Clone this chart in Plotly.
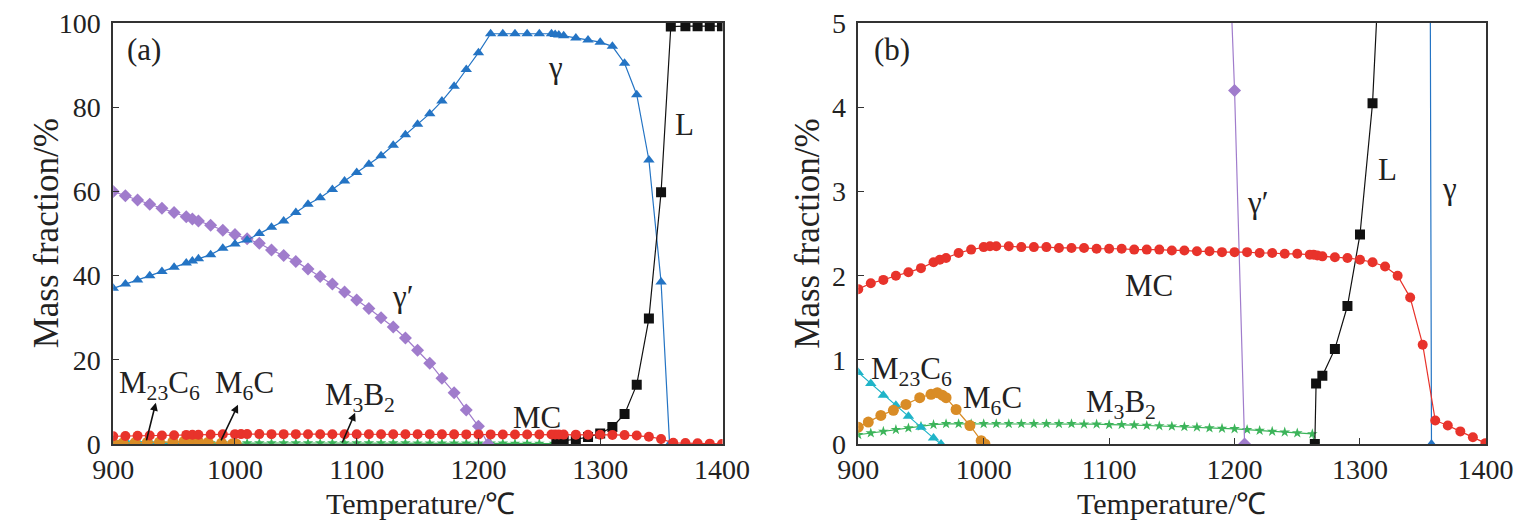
import plotly.graph_objs as go
from plotly.subplots import make_subplots

# gamma (matrix), blue triangles
gamma_t = [900, 910, 920, 930, 940, 950, 960, 965, 970, 980, 990, 1000, 1010, 1020, 1030,
           1040, 1050, 1060, 1070, 1080, 1090, 1100, 1110, 1120, 1130, 1140, 1150, 1160,
           1170, 1180, 1190, 1200, 1210, 1220, 1230, 1240, 1250, 1260, 1263, 1266, 1270,
           1280, 1290, 1300, 1310, 1320, 1330, 1340, 1350, 1357]
gamma_v = [37, 38, 39, 40, 41, 42, 43, 43.5, 44, 45, 46.5, 47.5, 48.5, 50, 51.5,
           53, 55, 57, 58.5, 60.5, 62.5, 64.5, 66.5, 68.5, 71, 73.5, 76, 78.5,
           81.5, 85, 89, 93, 97.5, 97.5, 97.5, 97.5, 97.5, 97.5, 97.3, 97.2, 97,
           96.5, 96, 95.5, 94.5, 90.5, 83, 67.5, 38.5, 0]

# gamma prime, purple diamonds
gp_t = [900, 910, 920, 930, 940, 950, 960, 965, 970, 980, 990, 1000, 1010, 1020, 1030,
        1040, 1050, 1060, 1070, 1080, 1090, 1100, 1110, 1120, 1130, 1140, 1150, 1160,
        1170, 1180, 1190, 1200, 1208]
gp_v = [60, 59, 58, 57, 56, 55, 54, 53.5, 53, 52, 50.8, 49.8, 48.8, 47.7, 46.1,
        44.8, 43.4, 41.6, 39.8, 38, 36.1, 34.2, 32.2, 30, 27.8, 25.2, 22.3, 19.2,
        15.6, 12.2, 8.1, 4.2, 0]

# liquid, black squares
liq_t = [1264, 1265, 1270, 1280, 1290, 1300, 1310, 1320, 1330, 1340, 1350, 1358,
         1370, 1380, 1390, 1400]
liq_v = [0, 0.72, 0.81, 1.13, 1.64, 2.49, 4.05, 7.1, 14.1, 29.8, 59.8, 99.2,
         99.3, 99.3, 99.3, 99.3]

# MC carbide, red circles
mc_t = [900, 910, 920, 930, 940, 950, 960, 965, 970, 980, 990, 1000, 1005, 1010, 1020,
        1030, 1040, 1050, 1060, 1070, 1080, 1090, 1100, 1110, 1120, 1130, 1140, 1150,
        1160, 1170, 1180, 1190, 1200, 1210, 1220, 1230, 1240, 1250, 1260, 1263, 1266,
        1270, 1280, 1290, 1300, 1310, 1320, 1330, 1340, 1350, 1360, 1370, 1380, 1390, 1400]
mc_v = [1.84, 1.91, 1.95, 2.0, 2.04, 2.09, 2.16, 2.19, 2.21, 2.27, 2.31, 2.34, 2.35, 2.35, 2.35,
        2.34, 2.34, 2.34, 2.33, 2.33, 2.33, 2.32, 2.32, 2.32, 2.31, 2.31, 2.31, 2.30,
        2.30, 2.29, 2.29, 2.28, 2.28, 2.28, 2.27, 2.27, 2.26, 2.26, 2.25, 2.25, 2.24,
        2.23, 2.22, 2.21, 2.19, 2.16, 2.11, 2.0, 1.74, 1.18, 0.28, 0.22, 0.15, 0.08, 0.01]

# M23C6, cyan triangles
m23_t = [900, 910, 920, 930, 940, 950, 960, 966]
m23_v = [0.85, 0.72, 0.58, 0.46, 0.33, 0.2, 0.07, 0]

# M6C, orange circles
m6_t = [900, 908, 918, 928, 938, 949, 958, 963, 967, 970, 978, 989, 998, 1001]
m6_v = [0.2, 0.26, 0.34, 0.4, 0.47, 0.55, 0.59, 0.61, 0.58, 0.55, 0.41, 0.22, 0.04, 0]

# M3B2, green stars
m3_t = [900, 910, 920, 930, 940, 950, 960, 970, 980, 990, 1000, 1010, 1020, 1030, 1040,
        1050, 1060, 1070, 1080, 1090, 1100, 1110, 1120, 1130, 1140, 1150, 1160, 1170,
        1180, 1190, 1200, 1210, 1220, 1230, 1240, 1250, 1262, 1264]
m3_v = [0.11, 0.13, 0.15, 0.17, 0.19, 0.21, 0.23, 0.24, 0.24, 0.24, 0.24, 0.24, 0.24, 0.24, 0.24,
        0.24, 0.24, 0.24, 0.235, 0.235, 0.23, 0.23, 0.225, 0.22, 0.215, 0.21, 0.205, 0.2,
        0.19, 0.185, 0.18, 0.17, 0.16, 0.15, 0.14, 0.13, 0.12, 0]

FONT = 'Liberation Serif, Times New Roman, serif'

series = [
    (m3_t, m3_v, '#3cb45a', 'star', 8),
    (m23_t, m23_v, '#1fb4c8', 'triangle-up', 10),
    (m6_t, m6_v, '#d98c26', 'circle', 11),
    (gp_t, gp_v, '#a07ccc', 'diamond', 10),
    (gamma_t, gamma_v, '#2474c4', 'triangle-up', 10),
    (liq_t, liq_v, '#111111', 'square', 10),
    (mc_t, mc_v, '#e8332b', 'circle', 10),
]

fig = make_subplots(rows=1, cols=2)
for col in (1, 2):
    for t, v, color, sym, size in series:
        fig.add_trace(go.Scatter(x=t, y=v, mode='lines+markers',
                                 line=dict(color=color, width=1.2),
                                 marker=dict(symbol=sym, size=size, color=color),
                                 showlegend=False), row=1, col=col)

axis_style = dict(showline=True, mirror=True, linecolor='#333', linewidth=1.5,
                  ticks='inside', ticklen=6, tickcolor='#333', showgrid=False,
                  zeroline=False, ticklabeloverflow='allow',
                  tickfont=dict(family=FONT, size=28, color='#222'))

fig.update_xaxes(range=[900, 1400.5], dtick=100, **axis_style)
fig.update_yaxes(ticklabelstandoff=5, **axis_style)
fig.update_xaxes(domain=[0.0566, 0.4661], row=1, col=1)
fig.update_xaxes(domain=[0.5573, 0.9792], row=1, col=2)
fig.update_yaxes(range=[0, 100.05], dtick=20, row=1, col=1)
fig.update_yaxes(range=[0, 5.003], dtick=1, row=1, col=2)

# axis titles placed as paper annotations
for x in (0.263, 0.7676):
    fig.add_annotation(x=x, y=-0.142, xref='paper', yref='paper', text='Temperature/℃',
                       showarrow=False, font=dict(family=FONT, size=30, color='#222'),
                       xanchor='center', yanchor='middle')
for x in (0.012, 0.523):
    fig.add_annotation(x=x, y=0.5, xref='paper', yref='paper', text='Mass fraction/%',
                       showarrow=False, font=dict(family=FONT, size=35, color='#222'),
                       textangle=-90, xanchor='center', yanchor='middle')

labels_a = [
    ('(a)', 925, 93.7), ('γ', 1263, 89.5), ('L', 1369, 76), ('γ′', 1138, 35),
    ('MC', 1248, 6.3), ('M<sub>23</sub>C<sub>6</sub>', 938, 14),
    ('M<sub>6</sub>C', 1008, 14), ('M<sub>3</sub>B<sub>2</sub>', 1103, 11.2),
]
labels_b = [
    ('(b)', 927, 4.69), ('MC', 1132, 1.88), ('γ′', 1218, 2.87), ('L', 1322, 3.26),
    ('γ', 1371.5, 3.04), ('M<sub>23</sub>C<sub>6</sub>', 942.5, 0.87),
    ('M<sub>6</sub>C', 1007, 0.52), ('M<sub>3</sub>B<sub>2</sub>', 1109.6, 0.48),
]
for ref, labels in (('', labels_a), ('2', labels_b)):
    for text, x, y in labels:
        fig.add_annotation(x=x, y=y, xref='x' + ref, yref='y' + ref, text=text,
                           showarrow=False, font=dict(family=FONT, size=31, color='#222'))

# arrows pointing from the curves up to the labels in panel (a)
arrows = [((935, 9.8), (927, 0.5)), ((1002.5, 9.3), (988, 0.5)), ((1098.7, 7.4), (1087.6, 0))]
for (hx, hy), (tx, ty) in arrows:
    fig.add_annotation(x=hx, y=hy, ax=tx, ay=ty, xref='x', yref='y', axref='x', ayref='y',
                       text='', showarrow=True, arrowhead=2, arrowsize=1, arrowwidth=1.6,
                       arrowcolor='#111')

fig.update_layout(width=1536, height=522, margin=dict(l=0, r=0, t=8, b=86),
                  plot_bgcolor='white', paper_bgcolor='white')
fig.write_html('out.html')
